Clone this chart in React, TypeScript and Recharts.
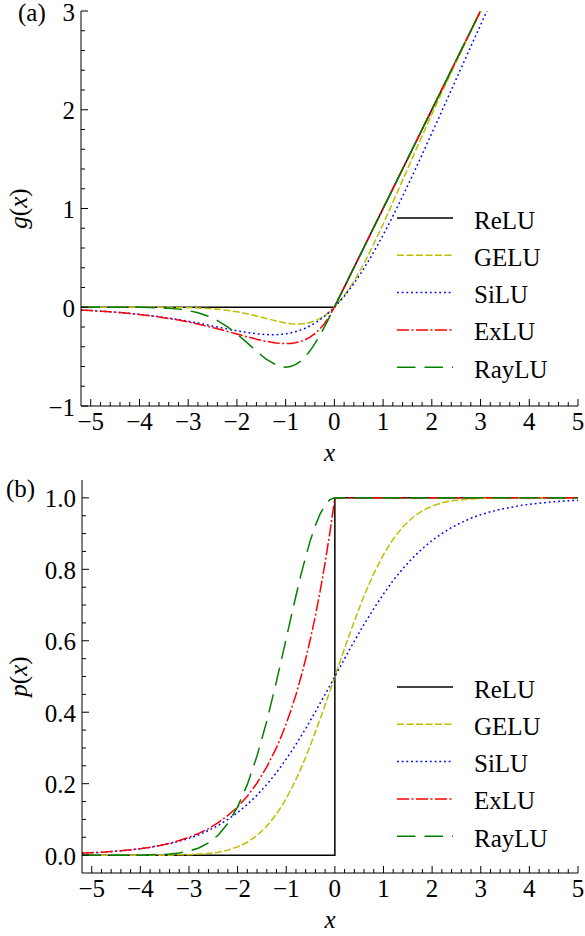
import React from 'react';
import { LineChart, Line, XAxis, YAxis, Legend } from 'recharts';

// sample positions along x (dense where the curves bend)
const X = [
  -5.2, -5.0, -4.8, -4.6, -4.4, -4.2, -4.0, -3.8, -3.6, -3.4, -3.2, -3.0, -2.8, -2.6, -2.4, -2.2, -2.0,
  -1.8, -1.6, -1.4, -1.2, -1.1, -1.0, -0.9, -0.8, -0.7, -0.6, -0.5, -0.4, -0.3, -0.2, -0.1, 0,
  0.2, 0.4, 0.6, 0.8, 1.0, 1.2, 1.4, 1.6, 1.8, 2.0, 2.2, 2.4, 2.6, 2.8, 3.0, 3.2, 3.4, 3.6, 3.8, 4.0,
  4.2, 4.4, 4.6, 4.8, 5.0,
];

// panel (a): g(x)
const GELU_G = [
  0, 0, 0, 0, 0, 0, 0, 0, -0.001, -0.001, -0.002, -0.004, -0.007, -0.012, -0.020, -0.031, -0.046,
  -0.065, -0.088, -0.113, -0.138, -0.149, -0.159, -0.166, -0.169, -0.169, -0.165, -0.154, -0.138, -0.115, -0.084, -0.046, 0,
  0.116, 0.262, 0.435, 0.631, 0.841, 1.062, 1.287, 1.512, 1.735, 1.954, 2.169, 2.380, 2.588, 2.793, 2.996, 3.198, 3.399, 3.599, 3.800, 4.000,
  4.200, 4.400, 4.600, 4.800, 5.000,
];
const SILU_G = [
  -0.029, -0.033, -0.039, -0.046, -0.053, -0.062, -0.072, -0.083, -0.096, -0.110, -0.125, -0.142, -0.160, -0.180, -0.200, -0.219, -0.238,
  -0.255, -0.269, -0.277, -0.278, -0.275, -0.269, -0.260, -0.248, -0.232, -0.213, -0.189, -0.161, -0.128, -0.090, -0.048, 0,
  0.110, 0.239, 0.387, 0.552, 0.731, 0.922, 1.123, 1.331, 1.545, 1.762, 1.981, 2.200, 2.420, 2.640, 2.858, 3.075, 3.290, 3.504, 3.717, 3.928,
  4.138, 4.347, 4.554, 4.761, 4.967,
];
const EXLU_G = [
  -0.029, -0.034, -0.040, -0.046, -0.054, -0.063, -0.073, -0.085, -0.098, -0.113, -0.130, -0.149, -0.170, -0.193, -0.218, -0.244, -0.271,
  -0.298, -0.323, -0.345, -0.361, -0.366, -0.368, -0.366, -0.359, -0.348, -0.329, -0.303, -0.268, -0.222, -0.164, -0.090, 0,
  0.2, 0.4, 0.6, 0.8, 1.0, 1.2, 1.4, 1.6, 1.8, 2.0, 2.2, 2.4, 2.6, 2.8, 3.0, 3.2, 3.4, 3.6, 3.8, 4.0,
  4.2, 4.4, 4.6, 4.8, 5.0,
];
const RAYLU_G = [
  0, 0, 0, 0, 0, -0.001, -0.001, -0.003, -0.006, -0.011, -0.019, -0.033, -0.056, -0.089, -0.135, -0.196, -0.271,
  -0.356, -0.445, -0.525, -0.584, -0.601, -0.607, -0.600, -0.581, -0.548, -0.501, -0.441, -0.369, -0.287, -0.196, -0.100, 0,
  0.2, 0.4, 0.6, 0.8, 1.0, 1.2, 1.4, 1.6, 1.8, 2.0, 2.2, 2.4, 2.6, 2.8, 3.0, 3.2, 3.4, 3.6, 3.8, 4.0,
  4.2, 4.4, 4.6, 4.8, 5.0,
];

// panel (b): p(x)
const GELU_P = [
  0, 0, 0, 0, 0, 0, 0, 0, 0, 0, 0.001, 0.001, 0.003, 0.005, 0.008, 0.014, 0.023,
  0.036, 0.055, 0.081, 0.115, 0.136, 0.159, 0.184, 0.212, 0.242, 0.274, 0.309, 0.345, 0.382, 0.421, 0.460, 0.5,
  0.579, 0.655, 0.726, 0.788, 0.841, 0.885, 0.919, 0.945, 0.964, 0.977, 0.986, 0.992, 0.995, 0.997, 0.999, 0.999, 1, 1, 1, 1,
  1, 1, 1, 1, 1,
];
const SILU_P = [
  0.005, 0.007, 0.008, 0.010, 0.012, 0.015, 0.018, 0.022, 0.027, 0.032, 0.039, 0.047, 0.057, 0.069, 0.083, 0.100, 0.119,
  0.142, 0.168, 0.198, 0.231, 0.250, 0.269, 0.289, 0.310, 0.332, 0.354, 0.378, 0.401, 0.426, 0.450, 0.475, 0.5,
  0.550, 0.599, 0.646, 0.690, 0.731, 0.769, 0.802, 0.832, 0.858, 0.881, 0.900, 0.917, 0.931, 0.943, 0.953, 0.961, 0.968, 0.973, 0.978, 0.982,
  0.985, 0.988, 0.990, 0.992, 0.993,
];
const EXLU_P = [
  0.006, 0.007, 0.008, 0.010, 0.012, 0.015, 0.018, 0.022, 0.027, 0.033, 0.041, 0.050, 0.061, 0.074, 0.091, 0.111, 0.135,
  0.165, 0.202, 0.247, 0.301, 0.333, 0.368, 0.407, 0.449, 0.497, 0.549, 0.607, 0.670, 0.741, 0.819, 0.905, 1,
  1, 1, 1, 1, 1, 1, 1, 1, 1, 1, 1, 1, 1, 1, 1, 1, 1, 1, 1, 1,
  1, 1, 1, 1, 1,
];
const RAYLU_P = [
  0, 0, 0, 0, 0, 0, 0, 0.001, 0.002, 0.003, 0.006, 0.011, 0.020, 0.034, 0.056, 0.089, 0.135,
  0.198, 0.278, 0.375, 0.487, 0.546, 0.607, 0.667, 0.726, 0.783, 0.835, 0.883, 0.923, 0.956, 0.980, 0.995, 1,
  1, 1, 1, 1, 1, 1, 1, 1, 1, 1, 1, 1, 1, 1, 1, 1, 1, 1, 1, 1,
  1, 1, 1, 1, 1,
];

// ReLU has its own corners (step in p at x = 0)
const RELU_GX = [-5.2, 0, 5];
const RELU_G = [0, 0, 5];
const RELU_PX = [-5.2, 0, 0, 5];
const RELU_P = [0, 0, 1, 1];

const X_MAJOR = [-5, -4, -3, -2, -1, 0, 1, 2, 3, 4, 5];
const G_MAJOR = [-1, 0, 1, 2, 3];
const P_MAJOR = [0, 0.2, 0.4, 0.6, 0.8, 1.0];
const X_TICKS = Array.from({ length: 51 }, (_, i) => Math.round((-5 + i * 0.2) * 10) / 10);
const G_TICKS = Array.from({ length: 21 }, (_, i) => Math.round((-1 + i * 0.2) * 10) / 10);
const P_TICKS = Array.from({ length: 21 }, (_, i) => Math.round(i * 0.05 * 100) / 100);

const SERIES = [
  { name: 'ReLU', key: 'relu', color: '#000000', dash: undefined },
  { name: 'GELU', key: 'gelu', color: '#bfbf00', dash: '7 2.5' },
  { name: 'SiLU', key: 'silu', color: '#0000ff', dash: '1.8 2.9' },
  { name: 'ExLU', key: 'exlu', color: '#ff0000', dash: '12 2.5 2 2.5' },
  { name: 'RayLU', key: 'raylu', color: '#008000', dash: '18.5 9' },
];

const gRows = X.map((x, i) => ({ x, gelu: GELU_G[i], silu: SILU_G[i], exlu: EXLU_G[i], raylu: RAYLU_G[i] }));
const pRows = X.map((x, i) => ({ x, gelu: GELU_P[i], silu: SILU_P[i], exlu: EXLU_P[i], raylu: RAYLU_P[i] }));
const gRelu = RELU_GX.map((x, i) => ({ x, relu: RELU_G[i] }));
const pRelu = RELU_PX.map((x, i) => ({ x, relu: RELU_P[i] }));

const FONT = { fontFamily: '"Liberation Serif", "Times New Roman", serif', fontSize: 25, fill: '#000' };
const MAJOR_LEN = 7;
const MINOR_LEN = 4;

const isMajor = (v: number, majors: number[]) => majors.some((m) => Math.abs(m - v) < 1e-6);
const fmtInt = (v: number) => {
  const r = Math.round(v);
  return r < 0 ? `\u2212${-r}` : `${r}`;
};

const bottomTick = (props: any) => {
  const { x, y, payload } = props;
  const major = isMajor(payload.value, X_MAJOR);
  return (
    <g>
      <line x1={x} y1={y} x2={x} y2={y - (major ? MAJOR_LEN : MINOR_LEN)} stroke="#000" strokeWidth={1} />
      {major && (
        <text x={x} y={y + 24} textAnchor="middle" style={FONT}>
          {fmtInt(payload.value)}
        </text>
      )}
    </g>
  );
};

const topTick = (props: any) => {
  const { x, y, payload } = props;
  const major = isMajor(payload.value, X_MAJOR);
  return <line x1={x} y1={y} x2={x} y2={y + (major ? MAJOR_LEN : MINOR_LEN)} stroke="#000" strokeWidth={1} />;
};

const makeLeftTick = (majors: number[], fmt: (v: number) => string) => (props: any) => {
  const { x, y, payload } = props;
  const major = isMajor(payload.value, majors);
  return (
    <g>
      <line x1={x} y1={y} x2={x + (major ? MAJOR_LEN : MINOR_LEN)} y2={y} stroke="#000" strokeWidth={1} />
      {major && (
        <text x={x - 6} y={y + 9.5} textAnchor="end" style={FONT}>
          {fmt(payload.value)}
        </text>
      )}
    </g>
  );
};

const makeRightTick = (majors: number[]) => (props: any) => {
  const { x, y, payload } = props;
  const major = isMajor(payload.value, majors);
  return <line x1={x} y1={y} x2={x - (major ? MAJOR_LEN : MINOR_LEN)} y2={y} stroke="#000" strokeWidth={1} />;
};

const xLabel = (props: any) => {
  const vb = props.viewBox;
  return (
    <text x={vb.x + vb.width / 2} y={vb.y + 54.5} textAnchor="middle" style={{ ...FONT, fontStyle: 'italic' }}>
      x
    </text>
  );
};

const makeYLabel = (fn: string, tag: string, tagX: number, tagDy: number) => (props: any) => {
  const vb = props.viewBox;
  const cy = vb.y + vb.height / 2;
  return (
    <g>
      <text x={27} y={cy} textAnchor="middle" transform={`rotate(-90 27 ${cy})`} style={FONT}>
        <tspan fontStyle="italic">{fn}</tspan>(<tspan fontStyle="italic">x</tspan>)
      </text>
      <text x={tagX} y={vb.y + tagDy} style={FONT}>
        {tag}
      </text>
    </g>
  );
};

const LegendBox = () => (
  <svg width={180} height={190}>
    {SERIES.map((s, i) => {
      const cy = 18 + i * 37.3;
      return (
        <g key={s.name}>
          <line x1={0} y1={cy} x2={56} y2={cy} stroke={s.color} strokeWidth={1.5} strokeDasharray={s.dash} />
          <text x={77} y={cy + 10.5} style={FONT}>
            {s.name}
          </text>
        </g>
      );
    })}
  </svg>
);

type PanelProps = {
  rows: any[];
  relu: any[];
  height: number;
  top: number;
  yWidth: number;
  xHeight: number;
  yDomain: number[];
  yTicks: number[];
  yMajor: number[];
  yFmt: (v: number) => string;
  fn: string;
  tag: string;
  tagX: number;
  tagDy: number;
  legendTop: number;
};

const Panel = (p: PanelProps) => (
  <LineChart width={585} height={p.height} margin={{ top: p.top, right: 7, bottom: 0, left: 0 }}>
    <XAxis
      dataKey="x"
      type="number"
      domain={[-5.2, 5]}
      allowDataOverflow
      ticks={X_TICKS}
      interval={0}
      tickSize={0}
      tickMargin={0}
      tickLine={false}
      tick={bottomTick}
      axisLine={{ stroke: '#000', strokeWidth: 1 }}
      height={p.xHeight}
      label={xLabel}
    />
    <XAxis
      xAxisId="top"
      orientation="top"
      dataKey="x"
      type="number"
      domain={[-5.2, 5]}
      allowDataOverflow
      ticks={X_TICKS}
      interval={0}
      tickSize={0}
      tickMargin={0}
      tickLine={false}
      tick={topTick}
      axisLine={{ stroke: '#000', strokeWidth: 1 }}
      height={0}
    />
    <YAxis
      type="number"
      domain={p.yDomain}
      allowDataOverflow
      ticks={p.yTicks}
      interval={0}
      tickSize={0}
      tickMargin={0}
      tickLine={false}
      tick={makeLeftTick(p.yMajor, p.yFmt)}
      axisLine={{ stroke: '#000', strokeWidth: 1 }}
      width={p.yWidth}
      label={makeYLabel(p.fn, p.tag, p.tagX, p.tagDy)}
    />
    <YAxis
      yAxisId="right"
      orientation="right"
      type="number"
      domain={p.yDomain}
      allowDataOverflow
      ticks={p.yTicks}
      interval={0}
      tickSize={0}
      tickMargin={0}
      tickLine={false}
      tick={makeRightTick(p.yMajor)}
      axisLine={{ stroke: '#000', strokeWidth: 1 }}
      width={0}
    />
    {SERIES.map((s) => (
      <Line
        key={s.key}
        data={s.key === 'relu' ? p.relu : p.rows}
        dataKey={s.key}
        name={s.name}
        type="linear"
        stroke={s.color}
        strokeWidth={1.5}
        strokeDasharray={s.dash}
        dot={false}
        activeDot={false}
        isAnimationActive={false}
      />
    ))}
    <Legend
      layout="vertical"
      align="center"
      verticalAlign="middle"
      wrapperStyle={{ left: 397, top: p.legendTop, width: 180, height: 190 }}
      content={() => <LegendBox />}
    />
  </LineChart>
);

const App = () => (
  <div style={{ position: 'absolute', left: 0, top: 0, width: 585, height: 936, background: '#fff' }}>
    <Panel
      rows={gRows}
      relu={gRelu}
      height={470}
      top={11}
      yWidth={81}
      xHeight={64}
      yDomain={[-1, 3]}
      yTicks={G_TICKS}
      yMajor={G_MAJOR}
      yFmt={fmtInt}
      fn="g"
      tag="(a)"
      tagX={18}
      tagDy={10}
      legendTop={199.7}
    />
    <Panel
      rows={pRows}
      relu={pRelu}
      height={466}
      top={10}
      yWidth={82}
      xHeight={63}
      yDomain={[-0.05, 1.05]}
      yTicks={P_TICKS}
      yMajor={P_MAJOR}
      yFmt={(v) => v.toFixed(1)}
      fn="p"
      tag="(b)"
      tagX={6}
      tagDy={17}
      legendTop={198.7}
    />
  </div>
);

export default App;
